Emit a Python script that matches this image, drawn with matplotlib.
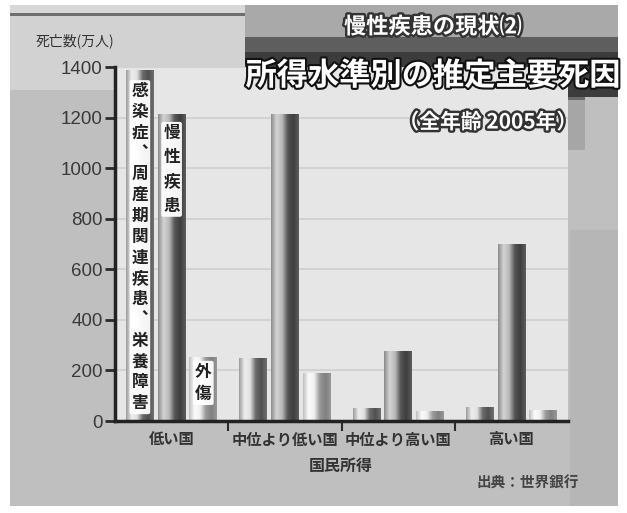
import numpy as np
import matplotlib
matplotlib.use("Agg")
from matplotlib import pyplot as plt
from matplotlib.patches import Rectangle
from matplotlib.colors import LinearSegmentedColormap
import matplotlib.patheffects as pe

plt.rcParams['font.family'] = ['Noto Sans CJK JP', 'DejaVu Sans']

# data (死亡数, 万人)
groups = ['低い国', '中位より低い国', '中位より高い国', '高い国']
infectious = [1390, 250, 50, 55]     # 感染症、周産期関連疾患、栄養障害
chronic = [1215, 1215, 275, 700]     # 慢性疾患
injuries = [255, 190, 40, 45]        # 外傷
yticks = [0, 200, 400, 600, 800, 1000, 1200, 1400]

W, H = 627, 513
fig = plt.figure(figsize=(W / 100, H / 100), dpi=100)
fig.patch.set_facecolor('white')


def px_rect(x0, y0, x1, y1, color, z=0):
    # rectangle given in image pixels (top-left origin)
    r = Rectangle((x0 / W, 1 - y1 / H), (x1 - x0) / W, (y1 - y0) / H,
                  transform=fig.transFigure, facecolor=color, edgecolor='none', zorder=z)
    fig.add_artist(r)


# background panels
px_rect(10, 5, 618, 506, '#bfbfbf', -5)
px_rect(10, 5, 618, 13, '#d8d8d8', -4)
px_rect(10, 13, 245, 16, '#6e6e6e', -4)
px_rect(10, 16, 245, 90, '#d2d2d2', -4)
px_rect(245, 5, 618, 40, '#a9a9a9', -4)
px_rect(245, 37, 618, 52, '#5e5e5e', -4)
px_rect(245, 52, 618, 97, '#3c3c3c', -4)
px_rect(393, 97, 585, 100, '#6a6a6a', -4)
px_rect(393, 100, 585, 150, '#a6a6a6', -4)
px_rect(570, 230, 618, 506, '#b6b6b6', -5)

ax = fig.add_axes([115 / W, 1 - 421 / H, (568 - 115) / W, (421 - 67) / H])
ax.set_facecolor('#e6e6e6')
ax.set_zorder(-2)
ax.patch.set_zorder(-3)

ax.set_yticks(yticks)
ax.set_yticklabels([str(v) for v in yticks], family=['Liberation Sans', 'DejaVu Sans'],
                   fontsize=13.5, color='#3a3a3a')
ax.tick_params(axis='y', length=7, width=2, color='#2a2a2a', pad=2)
ax.set_xticks([0.5, 1.5, 2.5])
ax.set_xticklabels([])
ax.tick_params(axis='x', length=7, width=1.5, color='#2a2a2a', direction='out')
ax.yaxis.grid(True, color='#cfcfcf', lw=1.2)
ax.set_axisbelow(True)
for s in ['top', 'right']:
    ax.spines[s].set_visible(False)
for s in ['left', 'bottom']:
    ax.spines[s].set_linewidth(2.5)
    ax.spines[s].set_color('#222222')
    ax.spines[s].set_zorder(5)

for i, g in enumerate(groups):
    ax.text(i, -72, g, ha='center', va='center', fontsize=11, color='#333333',
            fontweight='bold', clip_on=False)

cmaps = [
    LinearSegmentedColormap.from_list('inf', ['#9a9a9a', '#eeeeee', '#e0e0e0', '#6a6a6a', '#505050', '#707070']),
    LinearSegmentedColormap.from_list('chr', ['#8a8a8a', '#d4d4d4', '#b8b8b8', '#555555', '#3e3e3e', '#5e5e5e']),
    LinearSegmentedColormap.from_list('inj', ['#bdbdbd', '#fbfbfb', '#f0f0f0', '#9a9a9a', '#808080', '#989898']),
]
offsets = [-0.28, 0.0, 0.28]
bw = 0.245
grad = np.linspace(0, 1, 256).reshape(1, -1)

for series, off, cm in zip([infectious, chronic, injuries], offsets, cmaps):
    xs = np.arange(len(groups)) + off
    bars = ax.bar(xs, series, width=bw, facecolor='none', edgecolor='none', zorder=2)
    for b in bars:
        x0, y0 = b.get_x(), b.get_y()
        im = ax.imshow(grad, cmap=cm, aspect='auto', zorder=2,
                       extent=[x0, x0 + b.get_width(), y0, y0 + b.get_height()])
        im.set_clip_path(b)
ax.set_xlim(-0.5, 3.5)
ax.set_ylim(0, 1400)

# vertical labels inside the bars of the first group
box = dict(boxstyle='round,pad=0.12', fc='white', ec='none', alpha=0.95)
ax.text(offsets[0], 1340, '\n'.join('感染症︑周産期関連疾患︑栄養障害'), ha='center', va='top',
        fontsize=12, fontweight='bold', color='#222222', linespacing=1.2, bbox=box, zorder=4)
ax.text(offsets[1], 1175, '\n'.join('慢性疾患'), ha='center', va='top',
        fontsize=12, fontweight='bold', color='#222222', linespacing=1.45, bbox=box, zorder=4)
ax.text(offsets[2], 230, '\n'.join('外傷'), ha='center', va='top',
        fontsize=12, fontweight='bold', color='#222222', linespacing=1.3, bbox=box, zorder=4)

# titles
outline = [pe.withStroke(linewidth=3.5, foreground='#333333')]
fig.text(433 / W, 1 - 27 / H, '慢性疾患の現状⑵', ha='center', va='center', fontsize=16,
         fontweight='bold', color='white', path_effects=outline)
fig.text(433 / W, 1 - 76 / H, '所得水準別の推定主要死因', ha='center', va='center', fontsize=22.5,
         fontweight='bold', color='white', path_effects=[pe.withStroke(linewidth=3, foreground='#111111')])
fig.text(488 / W, 1 - 122 / H, '（全年齢 2005年）', ha='center', va='center', fontsize=15,
         fontweight='bold', color='white', path_effects=outline)

fig.text(75 / W, 1 - 41 / H, '死亡数(万人)', ha='center', va='center', fontsize=10, color='#333333')
fig.text(341 / W, 1 - 466 / H, '国民所得', ha='center', va='center', fontsize=11.5,
         fontweight='bold', color='#333333')
fig.text(528 / W, 1 - 483 / H, '出典：世界銀行', ha='center', va='center', fontsize=10.5,
         fontweight='bold', color='#444444')

fig.savefig('out.png', dpi=100, facecolor=fig.get_facecolor())
